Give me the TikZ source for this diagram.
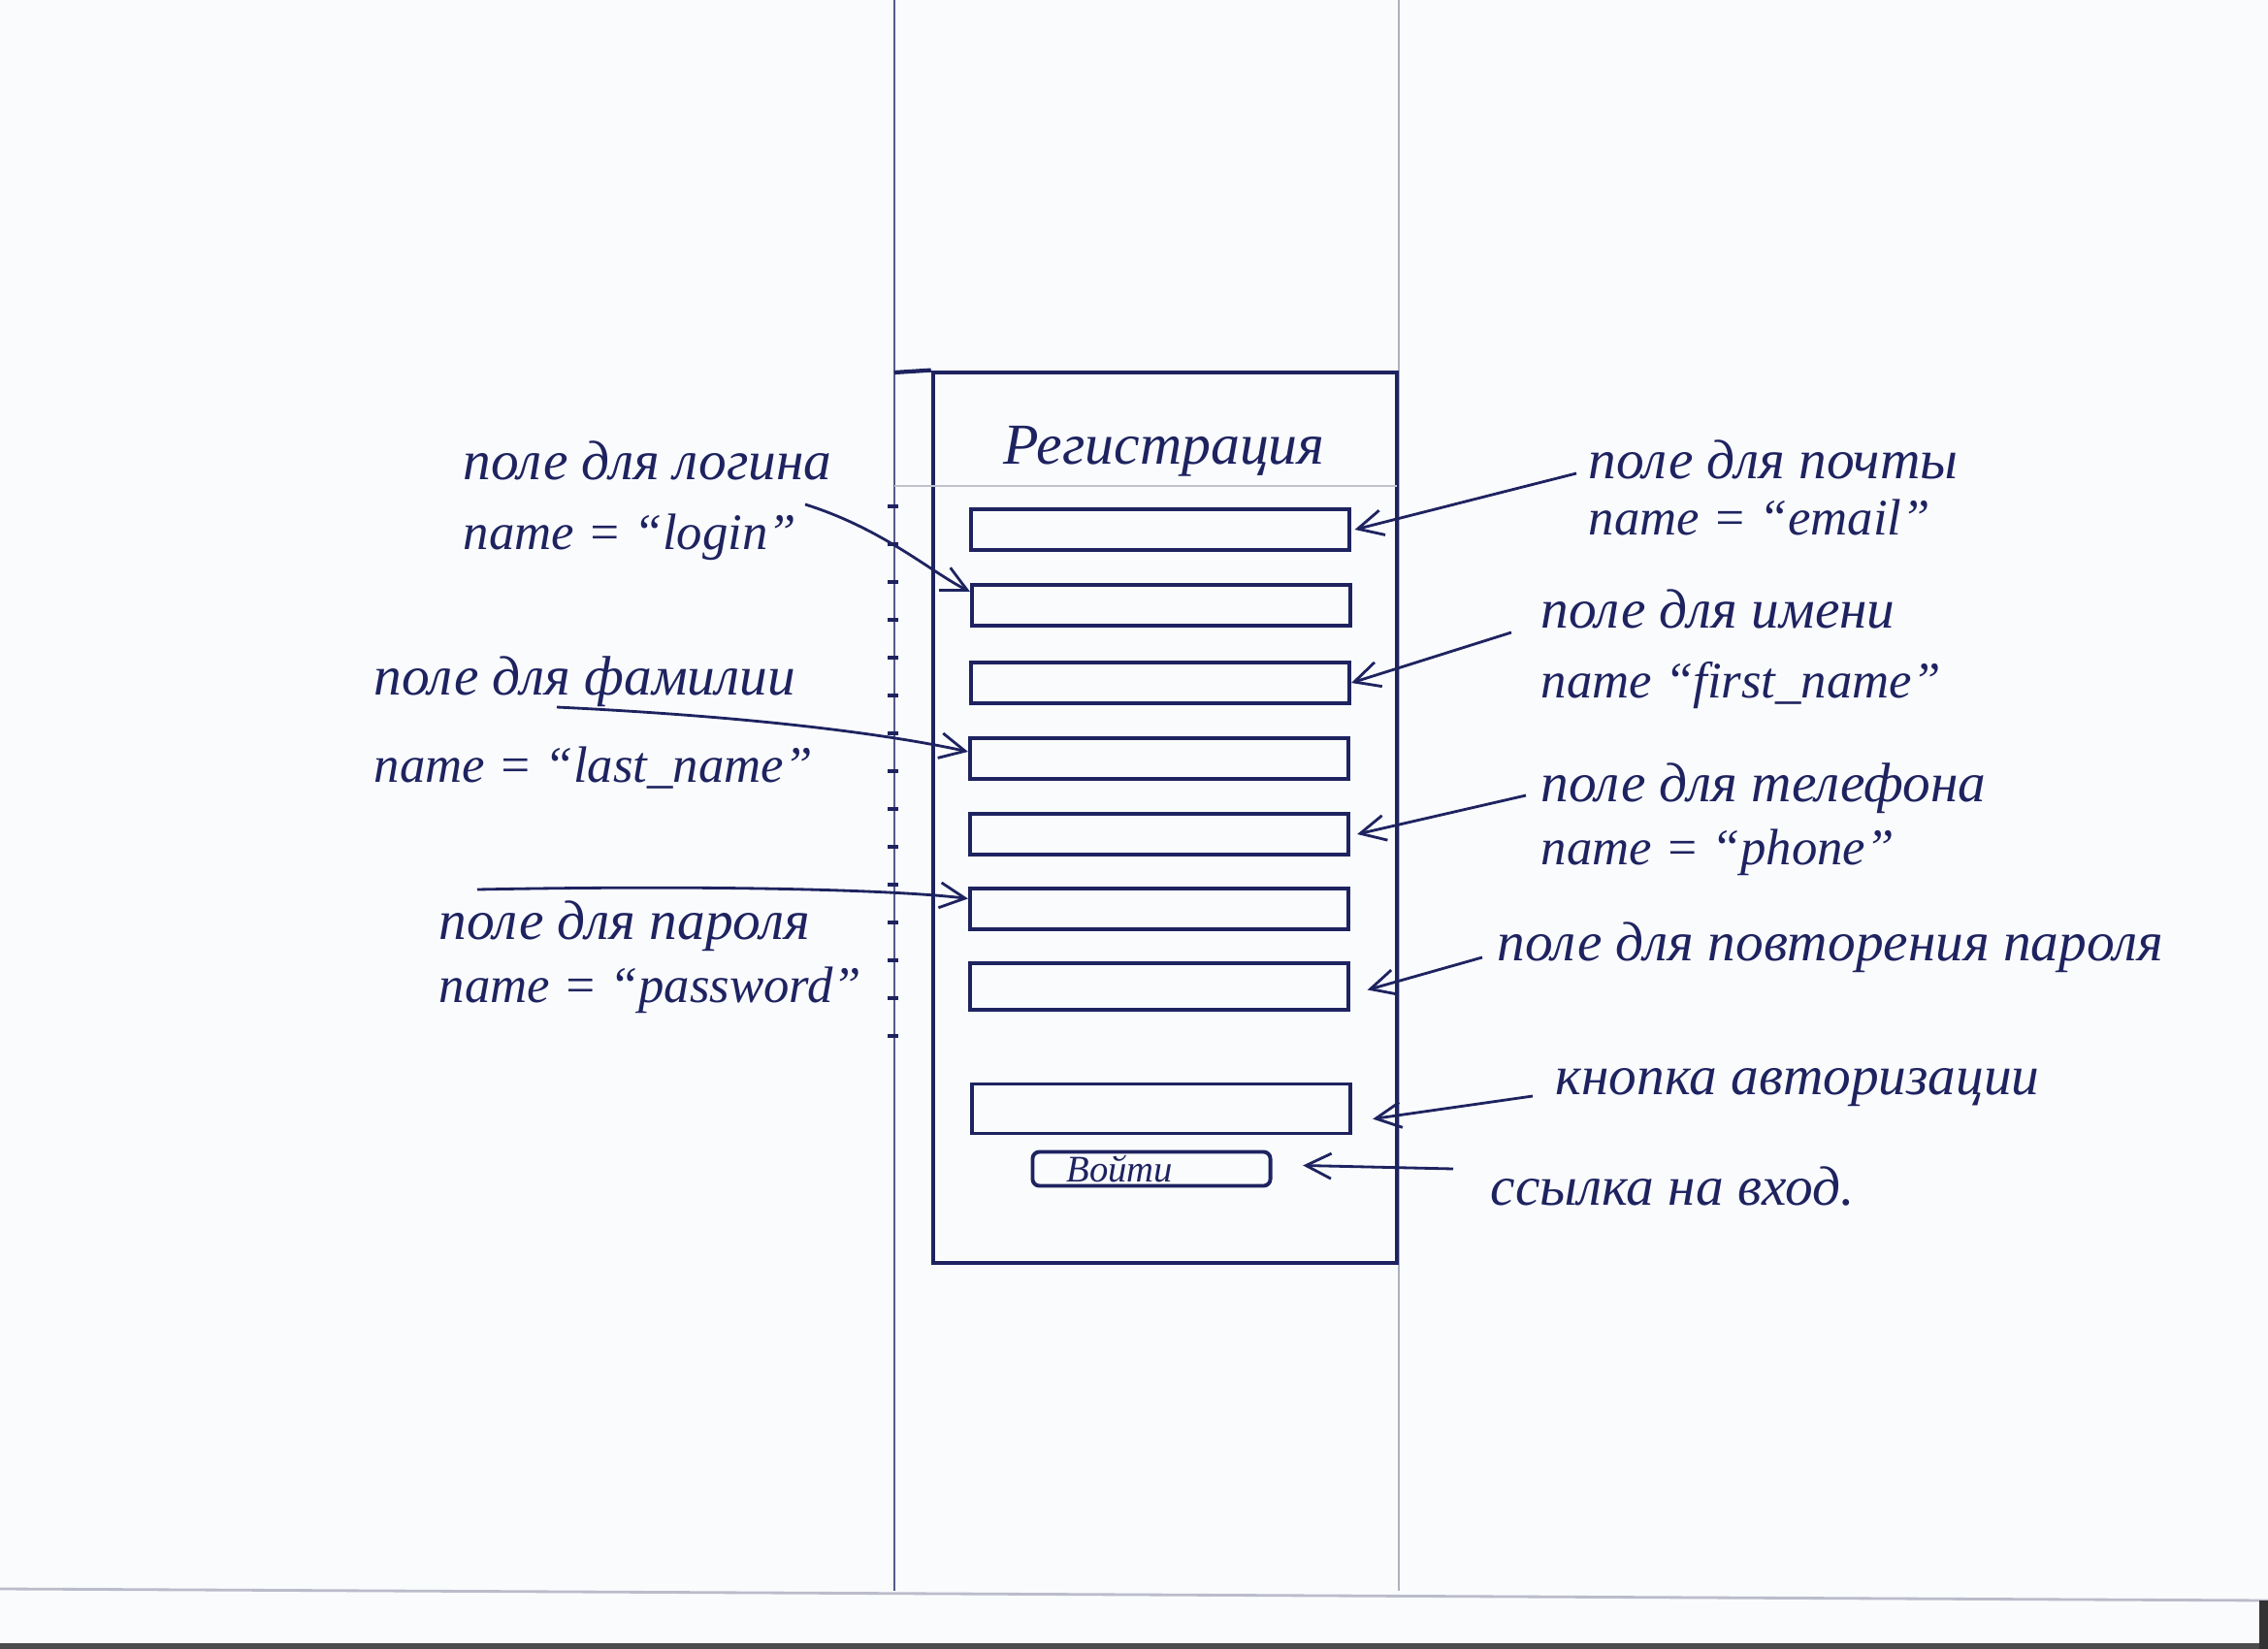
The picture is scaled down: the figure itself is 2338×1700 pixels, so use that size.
\documentclass[tikz,border=0pt]{standalone}
\usepackage{fontspec}
\setmainfont{Liberation Serif}
\usetikzlibrary{arrows.meta, positioning, calc}
\definecolor{ink}{HTML}{1E2360}
\definecolor{fold}{HTML}{8C90A6}
\definecolor{paper}{HTML}{FAFBFD}
\newcommand{\attrline}[1]{{\fontsize{15}{18}\selectfont #1}}

\begin{document}
\begin{tikzpicture}[x=0.01cm, y=-0.01cm,
  field/.style={draw=ink, line width=1.1pt, minimum width=3.9cm,
                minimum height=0.42cm, inner sep=0pt},
  note/.style={text=ink, font=\fontsize{16.3}{20.5}\selectfont\itshape,
               align=left, anchor=west, inner sep=0pt},
  pointer/.style={-{Straight Barb[length=2.6mm,width=2.6mm]}, draw=ink,
                  line width=0.8pt}]
  \fill[paper] (0,0) rectangle (2338,1700);
  \useasboundingbox (0,0) rectangle (2338,1700);
  % sheet: fold lines and scan edge
  \draw[ink!75, line width=0.8pt] (922,0) -- (922,1640);
  \draw[fold!70, line width=0.6pt] (1442,0) -- (1442,1640);
  \draw[fold!60, line width=0.8pt] (0,1638) -- (2338,1650);
  \fill[black!70] (0,1694) rectangle (2338,1700);
  \fill[black!80] (2329,1650) rectangle (2338,1700);
  \foreach \ty in {0,...,14}
    \draw[ink, line width=1pt] (915,{522+39*\ty}) -- (926,{522+39*\ty});
  % phone screen
  \node[draw=ink, line width=1.2pt, minimum width=4.78cm, minimum height=9.18cm,
        inner sep=0pt] (screen) at (1201,843) {};
  \draw[ink, line width=1.2pt] (922,384) -- (screen.north west);
  \draw[fold!55, line width=0.7pt] (922,501) -- (1440,501);
  \node[text=ink, font=\fontsize{17}{20}\selectfont\itshape] (title) at (1200,465)
    {Регистрация};
  % form fields
  \node[field] (f1) at (1196,546) {};
  \node[field] (f2) at (1197,624) {};
  \node[field] (f3) at (1196,704) {};
  \node[field] (f4) at (1195,782) {};
  \node[field] (f5) at (1195,860) {};
  \node[field] (f6) at (1195,937) {};
  \node[field, minimum height=0.48cm] (f7) at (1195,1017) {};
  \node[field, minimum height=0.51cm] (auth) at (1197,1143) {};
  \node[draw=ink, line width=1.1pt, rounded corners=2pt, text=ink,
        font=\fontsize{11}{12}\selectfont\itshape, text width=1.75cm, align=left,
        inner xsep=0.35cm, inner ysep=0.5pt, minimum height=0.35cm]
        (enter) at (1187,1205) {Войти};
  % notes on the left
  \node[note] (lblLogin) at (477,516) {поле для логина\\\attrline{name = “login”}};
  \node[note] (lblLast) at (385,745)
    {поле для фамилии\\[5pt]\attrline{name = “last\_name”}};
  \node[note] (lblPass) at (452,987)
    {поле для пароля\\[-2pt]\attrline{name = “password”}};
  % notes on the right
  \node[note] (lblMail) at (1637,503) {поле для почты\\[-4pt]\attrline{name = “email”}};
  \node[note] (lblFirst) at (1588,669) {поле для имени\\\attrline{name “first\_name”}};
  \node[note] (lblPhone) at (1588,845)
    {поле для телефона\\[-2pt]\attrline{name = “phone”}};
  \node[note] (lblRepeat) at (1543,977) {поле для повторения пароля};
  \node[note] (lblAuth) at (1603,1121) {кнопка авторизации};
  \node[note] (lblLink) at (1536,1223) {ссылка на вход.};
  % pointers
  \coordinate (pLogin) at (830,520);
  \coordinate (pLast) at (574,729);
  \coordinate (pPass) at (492,917);
  \coordinate (pMail) at (1625,488);
  \coordinate (pFirst) at (1558,652);
  \coordinate (pPhone) at (1573,820);
  \coordinate (pRepeat) at (1528,987);
  \coordinate (pAuth) at (1580,1130);
  \coordinate (pLink) at (1498,1205);
  \draw[pointer] (pLogin) .. controls (910,545) and (960,590) .. ([yshift=4pt]f2.west);
  \draw[pointer] (pLast) .. controls (800,740) and (930,760) .. ([yshift=2pt]f4.west);
  \draw[pointer] (pPass) .. controls (750,912) and (930,918) .. ([yshift=3pt]f6.west);
  \draw[pointer] (pMail) -- ([xshift=1pt]f1.east);
  \draw[pointer] (pFirst) -- (f3.east);
  \draw[pointer] (pPhone) -- ([xshift=2pt]f5.east);
  \draw[pointer] (pRepeat) -- ([xshift=5pt,yshift=-1pt]f7.east);
  \draw[pointer] (pAuth) -- ([xshift=6pt,yshift=-3pt]auth.east);
  \draw[pointer] (pLink) -- ([xshift=9pt,yshift=1pt]enter.east);
\end{tikzpicture}
\end{document}
